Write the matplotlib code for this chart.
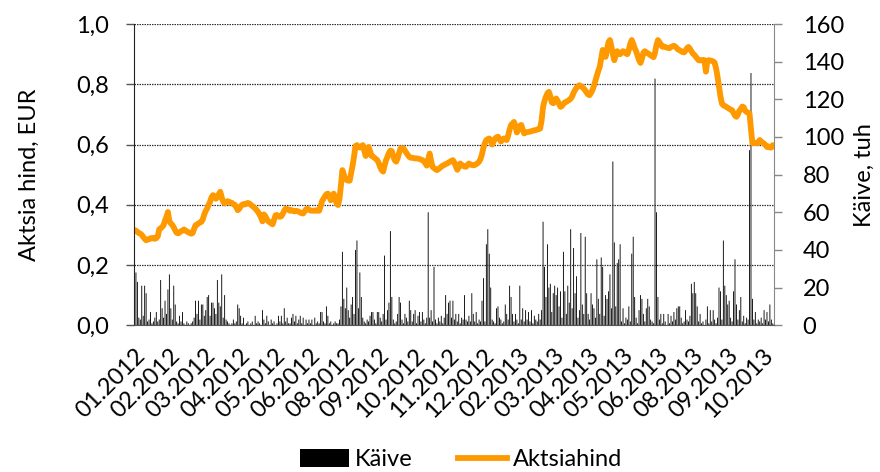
import matplotlib
matplotlib.use("Agg")
import matplotlib.pyplot as plt
from matplotlib.ticker import FuncFormatter, MultipleLocator
from matplotlib.patches import Patch
from matplotlib.lines import Line2D

plt.rcParams["font.family"] = ["Lato", "DejaVu Sans"]

# share price, EUR (one value per trading day, Jan 2012 - Oct 2013)
price = [
    0.316, 0.314, 0.310, 0.306, 0.304, 0.300, 0.293, 0.287, 0.282, 0.284,
    0.286, 0.289, 0.288, 0.290, 0.287, 0.289, 0.295, 0.318, 0.322, 0.326,
    0.332, 0.348, 0.360, 0.376, 0.345, 0.338, 0.333, 0.325, 0.315, 0.307,
    0.305, 0.308, 0.312, 0.314, 0.318, 0.315, 0.311, 0.309, 0.306, 0.304,
    0.306, 0.320, 0.332, 0.334, 0.338, 0.341, 0.343, 0.352, 0.368, 0.380,
    0.388, 0.400, 0.410, 0.425, 0.432, 0.428, 0.420, 0.425, 0.435, 0.443,
    0.425, 0.410, 0.404, 0.408, 0.412, 0.410, 0.408, 0.406, 0.402, 0.400,
    0.392, 0.382, 0.386, 0.395, 0.400, 0.402, 0.401, 0.404, 0.406, 0.404,
    0.400, 0.396, 0.392, 0.388, 0.382, 0.376, 0.368, 0.358, 0.345, 0.368,
    0.362, 0.352, 0.345, 0.342, 0.338, 0.335, 0.350, 0.365, 0.366, 0.362,
    0.360, 0.362, 0.370, 0.380, 0.387, 0.386, 0.383, 0.380, 0.382, 0.380,
    0.378, 0.380, 0.379, 0.377, 0.374, 0.372, 0.371, 0.378, 0.385, 0.387,
    0.383, 0.381, 0.380, 0.380, 0.381, 0.380, 0.382, 0.380, 0.395, 0.412,
    0.420, 0.428, 0.435, 0.437, 0.428, 0.415, 0.425, 0.437, 0.420, 0.405,
    0.399, 0.420, 0.465, 0.515, 0.500, 0.485, 0.482, 0.480, 0.480, 0.505,
    0.530, 0.560, 0.595, 0.598, 0.592, 0.590, 0.594, 0.598, 0.580, 0.562,
    0.578, 0.592, 0.578, 0.562, 0.560, 0.556, 0.552, 0.548, 0.538, 0.525,
    0.515, 0.510, 0.530, 0.548, 0.560, 0.572, 0.580, 0.578, 0.560, 0.548,
    0.543, 0.555, 0.572, 0.587, 0.588, 0.587, 0.580, 0.572, 0.565, 0.559,
    0.556, 0.556, 0.555, 0.554, 0.554, 0.553, 0.552, 0.550, 0.548, 0.545,
    0.538, 0.530, 0.550, 0.570, 0.545, 0.526, 0.522, 0.518, 0.515, 0.518,
    0.522, 0.526, 0.530, 0.532, 0.535, 0.537, 0.540, 0.543, 0.546, 0.548,
    0.540, 0.528, 0.516, 0.525, 0.537, 0.533, 0.529, 0.527, 0.526, 0.532,
    0.537, 0.534, 0.532, 0.531, 0.532, 0.535, 0.538, 0.543, 0.552, 0.568,
    0.590, 0.605, 0.615, 0.618, 0.620, 0.612, 0.600, 0.610, 0.620, 0.624,
    0.626, 0.618, 0.610, 0.615, 0.620, 0.618, 0.615, 0.630, 0.650, 0.665,
    0.670, 0.675, 0.660, 0.640, 0.650, 0.662, 0.665, 0.650, 0.637, 0.640,
    0.641, 0.642, 0.643, 0.644, 0.646, 0.647, 0.648, 0.650, 0.651, 0.653,
    0.680, 0.725, 0.745, 0.759, 0.770, 0.775, 0.760, 0.740, 0.737, 0.745,
    0.753, 0.745, 0.735, 0.725, 0.728, 0.735, 0.740, 0.742, 0.745, 0.748,
    0.752, 0.760, 0.772, 0.781, 0.788, 0.794, 0.797, 0.794, 0.790, 0.786,
    0.780, 0.772, 0.766, 0.764, 0.772, 0.781, 0.795, 0.812, 0.830, 0.845,
    0.858, 0.885, 0.914, 0.905, 0.891, 0.915, 0.940, 0.947, 0.925, 0.900,
    0.880, 0.895, 0.910, 0.905, 0.900, 0.905, 0.910, 0.908, 0.902, 0.900,
    0.915, 0.935, 0.947, 0.935, 0.920, 0.910, 0.895, 0.880, 0.871, 0.885,
    0.905, 0.910, 0.906, 0.903, 0.900, 0.896, 0.893, 0.890, 0.905, 0.930,
    0.947, 0.940, 0.932, 0.925, 0.926, 0.924, 0.922, 0.921, 0.920, 0.924,
    0.926, 0.928, 0.925, 0.920, 0.915, 0.913, 0.910, 0.907, 0.906, 0.912,
    0.920, 0.924, 0.918, 0.910, 0.902, 0.898, 0.892, 0.886, 0.880, 0.879,
    0.880, 0.881, 0.880, 0.842, 0.878, 0.880, 0.879, 0.878, 0.876, 0.872,
    0.853, 0.825, 0.792, 0.760, 0.736, 0.730, 0.728, 0.725, 0.722, 0.719,
    0.716, 0.714, 0.705, 0.696, 0.692, 0.700, 0.712, 0.718, 0.726, 0.724,
    0.712, 0.708, 0.706, 0.703, 0.650, 0.604, 0.606, 0.605, 0.604, 0.608,
    0.615, 0.610, 0.606, 0.603, 0.598, 0.592, 0.594, 0.590, 0.590, 0.598,
]

# turnover, thousand EUR
volume = [
    6, 28, 23, 4, 3, 21, 5, 21, 17, 2,
    3, 7, 1, 2, 4, 7, 2, 3, 24, 9,
    4, 13, 6, 19, 27, 9, 3, 21, 11, 2,
    1, 5, 2, 7, 1, 0, 2, 1, 0, 1,
    2, 4, 13, 6, 13, 3, 11, 11, 5, 8,
    15, 16, 5, 12, 12, 9, 6, 24, 12, 10,
    27, 4, 16, 3, 2, 1, 0, 1, 3, 1,
    2, 11, 9, 5, 1, 4, 0, 1, 2, 0,
    1, 2, 0, 5, 1, 2, 1, 0, 8, 3,
    1, 5, 2, 0, 3, 1, 2, 0, 1, 5,
    2, 5, 1, 9, 2, 4, 1, 1, 4, 6,
    2, 5, 1, 3, 5, 1, 4, 0, 3, 1,
    3, 1, 3, 0, 4, 1, 2, 1, 7, 7,
    2, 1, 10, 5, 1, 2, 0, 1, 2, 1,
    1, 3, 10, 39, 14, 9, 20, 8, 4, 11,
    15, 6, 40, 45, 9, 28, 15, 4, 2, 1,
    3, 2, 5, 7, 7, 3, 1, 7, 7, 4,
    2, 6, 37, 3, 8, 12, 50, 15, 3, 1,
    2, 6, 15, 12, 3, 1, 6, 4, 2, 13,
    8, 2, 6, 8, 1, 5, 7, 2, 7, 3,
    1, 4, 60, 4, 8, 2, 31, 3, 1, 4,
    2, 5, 1, 4, 16, 6, 12, 13, 4, 13,
    3, 6, 2, 6, 1, 4, 3, 16, 3, 2,
    5, 2, 17, 6, 2, 7, 1, 3, 2, 13,
    25, 2, 43, 51, 38, 20, 3, 2, 1, 9,
    10, 4, 3, 1, 2, 11, 6, 3, 21, 15,
    6, 2, 6, 3, 1, 21, 3, 9, 2, 8,
    3, 7, 2, 8, 1, 5, 3, 2, 6, 3,
    8, 55, 31, 15, 43, 20, 22, 7, 17, 21,
    16, 20, 10, 18, 4, 39, 18, 6, 21, 12,
    51, 9, 41, 17, 26, 4, 8, 49, 11, 6,
    47, 17, 6, 3, 17, 11, 9, 4, 35, 14,
    6, 36, 31, 5, 16, 14, 18, 27, 9, 87,
    44, 10, 33, 35, 43, 2, 9, 1, 4, 3,
    10, 2, 38, 47, 15, 4, 1, 8, 16, 14,
    6, 2, 9, 14, 10, 3, 2, 1, 131, 60,
    15, 3, 6, 1, 6, 2, 0, 6, 1, 5,
    2, 7, 3, 9, 10, 10, 4, 1, 2, 8,
    3, 2, 5, 22, 17, 23, 17, 10, 2, 6,
    1, 2, 0, 3, 10, 1, 8, 2, 8, 3,
    1, 4, 20, 18, 3, 45, 21, 16, 11, 13,
    4, 2, 18, 35, 11, 3, 8, 15, 2, 5,
    1, 4, 3, 93, 134, 14, 3, 7, 1, 3,
    2, 4, 1, 8, 3, 7, 2, 11, 3, 1,
]

month_labels = ["01.2012", "02.2012", "03.2012", "04.2012", "05.2012", "06.2012",
                "08.2012", "09.2012", "10.2012", "11.2012", "12.2012", "02.2013",
                "03.2013", "04.2013", "05.2013", "06.2013", "08.2013", "09.2013",
                "10.2013"]
LABEL_STEP = 24  # one category label every 24 trading days

ORANGE = "#ff9900"
FS = 17
x = list(range(len(price)))

fig = plt.figure(figsize=(8.8, 4.72), dpi=100)
ax = fig.add_axes([0.152, 0.311, 0.727, 0.638])
ax2 = ax.twinx()

# volume bars on the right axis (thin, not snapped so none vanish)
ax2.bar(x, volume, width=0.6, color="black", linewidth=0, snap=False)
ax2.set_ylim(0, 160)
ax2.yaxis.set_major_locator(MultipleLocator(20))

# price line on top
ax.set_zorder(ax2.get_zorder() + 1)
ax.patch.set_visible(False)
ax.plot(x, price, color=ORANGE, lw=4.2, solid_joinstyle="round", solid_capstyle="round")
ax.set_ylim(0, 1.0)
ax.yaxis.set_major_locator(MultipleLocator(0.2))
ax.yaxis.set_major_formatter(FuncFormatter(lambda v, p: f"{v:.1f}".replace(".", ",")))
ax.set_xlim(-0.5, len(price) - 0.5)
ax.grid(axis="y", color="#333333", lw=0.9, ls=(0, (1.2, 0.8)))
ax.set_axisbelow(True)

ax.set_xticks(list(range(0, len(price), LABEL_STEP))[:len(month_labels)])
ax.set_xticklabels(month_labels, rotation=45, ha="right", rotation_mode="anchor")
ax.tick_params(axis="x", length=0, pad=14, labelsize=FS)
ax.tick_params(axis="y", length=6, width=1, color="#555555", labelsize=FS, pad=12)
ax2.tick_params(axis="y", length=6, width=1, color="#888888", labelsize=FS, pad=15)

for a in (ax, ax2):
    a.spines["top"].set_visible(False)
ax.spines["right"].set_visible(False)
ax.spines["left"].set_color("#222222")
ax.spines["bottom"].set_color("#555555")
ax2.spines["left"].set_visible(False)
ax2.spines["bottom"].set_visible(False)
ax2.spines["right"].set_color("#888888")

ax.set_ylabel("Aktsia hind, EUR", fontsize=FS, labelpad=26)
ax2.set_ylabel("Käive, tuh", fontsize=FS, labelpad=7)

handles = [Patch(facecolor="black", edgecolor="none"),
           Line2D([0], [0], color=ORANGE, lw=4.2)]
fig.legend(handles, ["Käive", "Aktsiahind"], loc="center", bbox_to_anchor=(0.524, 0.026),
           ncol=2, frameon=False, fontsize=FS, handlelength=2.1, handleheight=0.8,
           handletextpad=0.25, columnspacing=1.9)

fig.savefig("out.png", dpi=100)
